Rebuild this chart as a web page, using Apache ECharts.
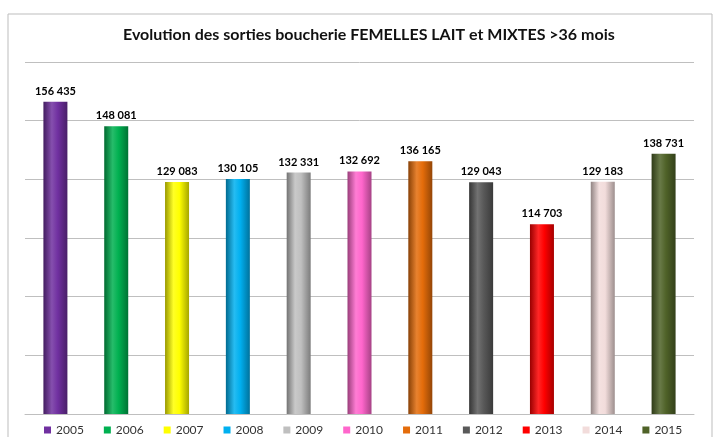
<!DOCTYPE html>
<html>
<head>
<meta charset="utf-8">
<script src="https://cdn.jsdelivr.net/npm/echarts@6/dist/echarts.min.js"></script>
<style>
  html, body { margin: 0; padding: 0; background: #fff; }
  #chart { width: 718px; height: 437px; }
</style>
</head>
<body>
<div id="chart"></div>
<script>
// données
var years = ['2005', '2006', '2007', '2008', '2009', '2010', '2011', '2012', '2013', '2014', '2015'];
var sorties = [156435, 148081, 129083, 130105, 132331, 132692, 136165, 129043, 114703, 129183, 138731];
var couleurs = ['#7030a0', '#00b050', '#ffff00', '#00b0f0', '#bfbfbf', '#ff66cc', '#e46c0a', '#595959', '#ff0000', '#f2dcdb', '#4f6228'];

// assombrir / éclaircir une couleur pour l'effet cylindre
function shade(hex, f) {
    var n = parseInt(hex.slice(1), 16);
    var r = (n >> 16) & 255, g = (n >> 8) & 255, b = n & 255;
    function c(v) { return Math.max(0, Math.min(255, Math.round(v * f))); }
    return 'rgb(' + c(r) + ',' + c(g) + ',' + c(b) + ')';
}
function lighten(hex, f) {
    var n = parseInt(hex.slice(1), 16);
    var r = (n >> 16) & 255, g = (n >> 8) & 255, b = n & 255;
    function c(v) { return Math.round(v + (255 - v) * f); }
    return 'rgb(' + c(r) + ',' + c(g) + ',' + c(b) + ')';
}

function fmt(v) {
    return String(v).replace(/\B(?=(\d{3})+(?!\d))/g, ' ');
}

var series = years.map(function(y, i) {
    var data = years.map(function(_, j) { return j === i ? sorties[i] : '-'; });
    return {
        name: y,
        type: 'bar',
        stack: 'total',
        barWidth: 24,
        data: data,
        itemStyle: {
            color: new echarts.graphic.LinearGradient(0, 0, 1, 0, [
                {offset: 0, color: shade(couleurs[i], 0.6)},
                {offset: 0.35, color: lighten(couleurs[i], 0.15)},
                {offset: 0.6, color: couleurs[i]},
                {offset: 1, color: shade(couleurs[i], 0.65)}
            ])
        },
        label: {
            show: true,
            position: 'top',
            distance: 5,
            fontFamily: 'Lato',
            fontWeight: 'bold',
            fontSize: 11,
            color: '#000',
            formatter: function(p) { return fmt(p.value); }
        }
    };
});

var option = {
    backgroundColor: '#fff',
    animation: false,
    graphic: [{
        type: 'rect',
        shape: {x: 8, y: 14, width: 704, height: 440},
        style: {fill: 'none', stroke: '#bdbdbd', lineWidth: 1}
    }],
    title: {
        text: 'Evolution des sorties boucherie FEMELLES LAIT et MIXTES >36 mois',
        left: 118,
        top: 22,
        textStyle: {fontFamily: 'Lato', fontWeight: 'bold', fontSize: 16, color: '#111'}
    },
    legend: {
        data: years.map(function(y, i) { return {name: y, itemStyle: {color: couleurs[i]}}; }),
        top: 424,
        left: 44,
        width: 690,
        padding: 0,
        icon: 'rect',
        itemWidth: 7,
        itemHeight: 7,
        itemGap: 20,
        textStyle: {fontFamily: 'Lato', fontSize: 12, color: '#333'}
    },
    grid: {left: 25, right: 24, top: 62, bottom: 23},
    xAxis: {
        type: 'category',
        data: years,
        axisLine: {lineStyle: {color: '#bfbfbf', width: 1}},
        axisTick: {show: false},
        axisLabel: {show: false}
    },
    yAxis: {
        type: 'value',
        min: 50000,
        max: 170000,
        interval: 20000,
        axisLine: {show: false},
        axisTick: {show: false},
        axisLabel: {show: false},
        splitLine: {lineStyle: {color: '#bfbfbf', width: 1}}
    },
    series: series
};

echarts.init(document.getElementById('chart')).setOption(option);
</script>
</body>
</html>
